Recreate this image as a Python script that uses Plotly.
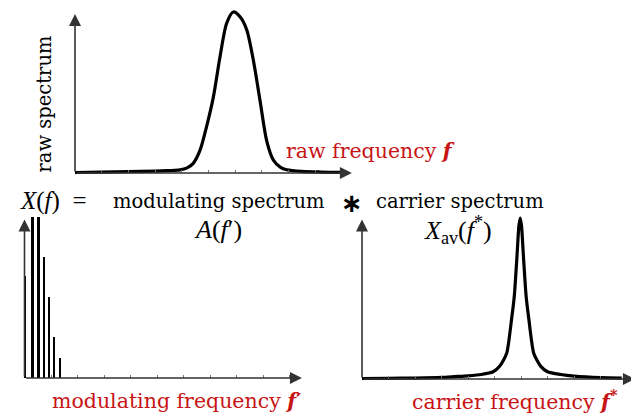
import plotly.graph_objects as go

# the page body has an 8 px margin, so the figure is shifted by OFF
OFF = 8
W, H = 639 - OFF, 413 - OFF

# ---------------- data ----------------
# top panel: raw spectrum vs raw frequency f (tick units)
raw_f = [0.0, 1.0, 2.0, 3.0, 3.5, 3.93, 4.2, 4.43, 4.68, 4.93, 5.18, 5.43, 5.68, 5.93,
         6.18, 6.43, 6.68, 6.93, 7.18, 7.43, 7.7, 7.93, 8.5, 9.2, 10.0]
raw_s = [0.003, 0.005, 0.008, 0.012, 0.015, 0.019, 0.032, 0.06, 0.14, 0.29, 0.47, 0.72, 0.93, 1.0,
         0.97, 0.89, 0.70, 0.45, 0.20, 0.08, 0.035, 0.02, 0.01, 0.006, 0.004]
raw_ticks = [1, 2, 3, 4, 5, 6, 7, 8, 9, 10]

# bottom-left: modulating spectrum A(f')
mod_f = [0.04, 0.32, 0.54, 0.74, 0.94, 1.12, 1.33]
mod_a = [0.63, 1.0, 1.0, 0.75, 0.50, 0.25, 0.125]
mod_w_px = [2, 3, 3, 2, 2, 2, 2]
mod_ticks = [1, 2, 3, 4, 5, 6, 7, 8, 9, 10]

# bottom-right: carrier spectrum X_av(f*)
car_f = [0.0, 1.0, 2.0, 3.0, 3.5, 4.0, 4.5, 4.95, 5.2, 5.46, 5.65, 5.75, 5.84, 5.92, 5.97,
         6.02, 6.10, 6.19, 6.29, 6.48, 6.74, 7.0, 7.5, 8.0, 9.0, 9.8]
car_x = [0.003, 0.004, 0.006, 0.010, 0.015, 0.020, 0.028, 0.045, 0.08, 0.16, 0.38, 0.52, 0.74, 0.95, 1.0,
         0.95, 0.74, 0.52, 0.38, 0.16, 0.08, 0.045, 0.028, 0.018, 0.008, 0.005]
car_ticks = [1, 2, 3, 4, 5, 6, 7, 8, 9]

RED = "#c81414"
AX = "#333333"
SERIF = "DejaVu Serif, Liberation Serif, Times New Roman, serif"
MATH = "Liberation Serif, Times New Roman, serif"

# ---------------- panel geometry (window pixel origin, px per unit) ----------------
panels = {
    # name: (x0px, x ppu, xrange, y0px, y ppu, yrange, x arrow end, y arrow end)
    "top": (75, 26.7, [-1.0, 11.2], 173, 161, [-0.1, 1.02], 10.37, 0.988),
    "bl": (24.5, 26.5, [-0.5, 11.0], 378, 161, [-0.1, 1.06], 10.47, 0.985),
    "br": (362, 26.5, [-0.5, 10.45], 379, 161, [-0.1, 1.06], 10.3, 0.99),
}


def dom_x(p):
    x0, ppu, r = p[0] - OFF, p[1], p[2]
    return [(x0 + ppu * r[0]) / W, (x0 + ppu * r[1]) / W]


def dom_y(p):
    y0, ppu, r = p[3] - OFF, p[4], p[5]
    return [1 - (y0 - ppu * r[0]) / H, 1 - (y0 - ppu * r[1]) / H]


fig = go.Figure()

fig.add_trace(go.Scatter(x=raw_f, y=raw_s, mode="lines", xaxis="x", yaxis="y",
                         line=dict(color="black", width=3.2, shape="spline", smoothing=0.8),
                         hoverinfo="skip", showlegend=False))
fig.add_trace(go.Bar(x=mod_f, y=mod_a, xaxis="x2", yaxis="y2",
                     width=[w / panels["bl"][1] for w in mod_w_px],
                     marker=dict(color="black", line=dict(width=0)),
                     hoverinfo="skip", showlegend=False))
fig.add_trace(go.Scatter(x=car_f, y=car_x, mode="lines", xaxis="x3", yaxis="y3",
                         line=dict(color="black", width=3.2, shape="spline", smoothing=0.6),
                         hoverinfo="skip", showlegend=False))

layout = dict(width=W, height=H, margin=dict(l=0, r=0, t=0, b=0),
              paper_bgcolor="white", plot_bgcolor="rgba(0,0,0,0)", showlegend=False,
              bargap=0, font=dict(family=SERIF))

ticks = {"top": raw_ticks, "bl": mod_ticks, "br": car_ticks}
for i, name in enumerate(["top", "bl", "br"]):
    p = panels[name]
    sx = "" if i == 0 else str(i + 1)
    layout["xaxis" + sx] = dict(domain=dom_x(p), range=p[2], anchor="free",
                                position=1 - (p[3] - OFF) / H, showgrid=False, zeroline=False,
                                showline=False, showticklabels=False, ticks="inside",
                                ticklen=3, tickwidth=1, tickcolor="#777777",
                                tickvals=ticks[name], fixedrange=True)
    layout["yaxis" + sx] = dict(domain=dom_y(p), range=p[5], anchor="x" + sx,
                                showgrid=False, zeroline=False, showline=False,
                                showticklabels=False, ticks="", fixedrange=True)
fig.update_layout(**layout)

# axis arrows
anns = []
for i, name in enumerate(["top", "bl", "br"]):
    p = panels[name]
    sx = "" if i == 0 else str(i + 1)
    xr, yr = "x" + sx, "y" + sx
    for (hx, hy) in [(p[6], 0), (0, p[7])]:
        anns.append(dict(x=hx, y=hy, ax=0, ay=0, xref=xr, yref=yr, axref=xr, ayref=yr,
                         text="", showarrow=True, arrowhead=2, arrowsize=1.5,
                         arrowwidth=1.6, arrowcolor=AX, standoff=0))


def txt(s, px, py, size=19.5, color="black", family=SERIF, angle=0, xanchor="center"):
    anns.append(dict(text=s, x=(px - OFF) / W, y=1 - (py - OFF) / H, xref="paper", yref="paper",
                     showarrow=False, xanchor=xanchor, yanchor="middle", textangle=angle,
                     font=dict(family=family, size=size, color=color)))


txt("raw spectrum", 43.5, 104, angle=-90)
txt("raw frequency <b><i>f</i></b>", 370, 151, color=RED, size=20.5)
txt("<i>X</i>(<i>f</i>)&nbsp;&nbsp;=", 53, 201, size=25, family=MATH)
txt("modulating spectrum", 219, 201)
txt("<i>A</i>(<i>f</i>′)", 218, 229, size=26, family=MATH)
txt("<b>∗</b>", 352, 203, size=26, family="DejaVu Sans")
txt("carrier spectrum", 460, 201)
txt("<i>X</i><sub>av</sub>(<i>f</i><sup>*</sup>)", 458, 230, size=26, family=MATH)
txt("modulating frequency <b><i>f</i>′</b>", 177, 401, color=RED, size=20.5)
txt("carrier frequency <b><i>f</i><sup>*</sup></b>", 515, 400, color=RED, size=20.5)

fig.update_layout(annotations=anns)
fig.write_html("out.html")
